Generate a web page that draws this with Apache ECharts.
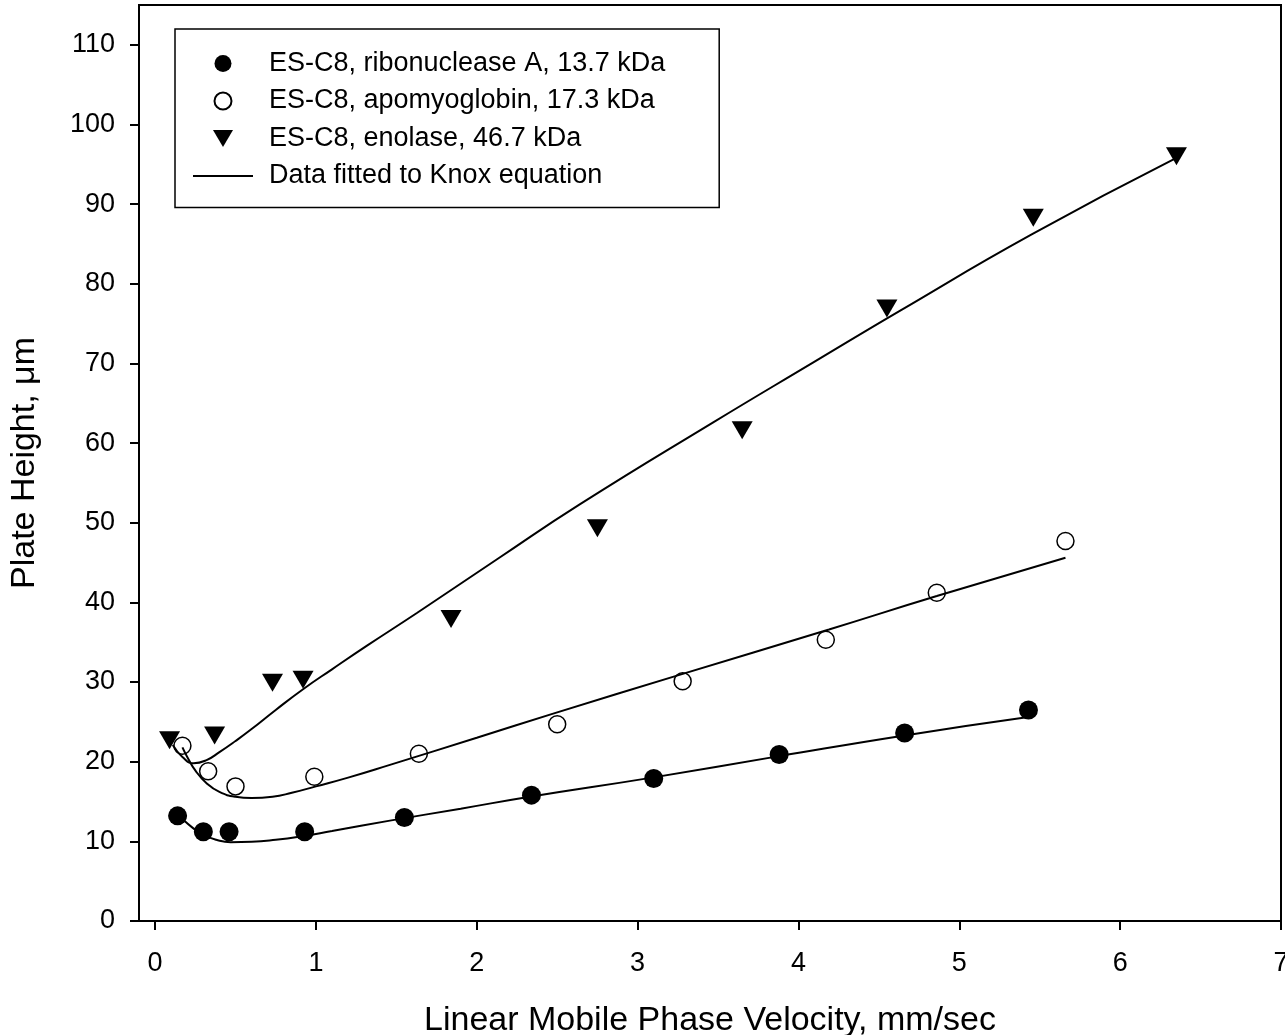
<!DOCTYPE html>
<html>
<head>
<meta charset="utf-8">
<script src="https://cdn.jsdelivr.net/npm/echarts@6/dist/echarts.min.js"></script>
<style>
  html, body { margin: 0; padding: 0; background: #fff; }
  #chart { width: 1285px; height: 1035px; }
</style>
</head>
<body>
<div id="chart"></div>
<script>
// 图例名称
var riboName = 'ES-C8, ribonuclease A, 13.7 kDa';
var apoName = 'ES-C8, apomyoglobin, 17.3 kDa';
var enoName = 'ES-C8, enolase, 46.7 kDa';
var fitName = 'Data fitted to Knox equation';

// 刻度
var xTicks = [0, 1, 2, 3, 4, 5, 6, 7];
var yTicks = [0, 10, 20, 30, 40, 50, 60, 70, 80, 90, 100, 110];

// 测量点 [线速度 mm/sec, 板高 µm]
var riboData = [[0.14, 13.2], [0.30, 11.2], [0.46, 11.2], [0.93, 11.2], [1.55, 13.0],
  [2.34, 15.8], [3.10, 17.9], [3.88, 20.9], [4.66, 23.6], [5.43, 26.5]];
var apoData = [[0.17, 22.0], [0.33, 18.8], [0.50, 16.9], [0.99, 18.1], [1.64, 21.0],
  [2.50, 24.7], [3.28, 30.1], [4.17, 35.3], [4.86, 41.2], [5.66, 47.7]];
var enoData = [[0.09, 22.7], [0.37, 23.3], [0.73, 29.9], [0.92, 30.3], [1.84, 37.9],
  [2.75, 49.3], [3.65, 61.6], [4.55, 76.9], [5.46, 88.3], [6.35, 96.0]];

// Knox 拟合曲线
var riboFit = [[0.17, 12.8], [0.24, 11.6], [0.30, 10.8], [0.38, 10.2], [0.47, 9.9], [0.60, 9.95],
  [0.75, 10.2], [0.90, 10.6], [1.10, 11.3], [1.46, 12.6], [1.90, 14.1], [2.33, 15.6],
  [3.09, 18.0], [3.88, 20.7], [4.66, 23.3], [5.43, 25.6]];
var apoFit = [[0.17, 21.8], [0.20, 20.6], [0.25, 18.9], [0.32, 17.3], [0.40, 16.2], [0.50, 15.6],
  [0.60, 15.45], [0.73, 15.6], [0.85, 16.1], [1.00, 16.9], [1.20, 18.0], [1.46, 19.6],
  [2.00, 23.0], [2.47, 26.0], [3.26, 30.9], [4.19, 36.6], [4.86, 40.8], [5.66, 45.6]];
var enoFit = [[0.11, 22.1], [0.17, 20.6], [0.24, 19.8], [0.32, 20.2], [0.40, 21.2], [0.50, 22.6],
  [0.60, 24.1], [0.75, 26.5], [0.92, 29.1], [1.10, 31.6], [1.32, 34.6], [1.63, 38.7],
  [2.14, 45.6], [2.64, 52.3], [3.47, 62.6], [4.09, 70.1], [4.63, 76.6], [5.45, 86.2], [6.35, 95.8]];

var font = 'Liberation Sans, Arial, sans-serif';
var myChart = echarts.init(document.getElementById('chart'));

function fitSeries(data) {
  return {
    name: fitName,
    type: 'line',
    data: data,
    symbol: 'none',
    smooth: 0.5,
    lineStyle: { color: '#000', width: 2 },
    itemStyle: { color: '#000' },
    z: 3
  };
}

var option = {
  animation: false,
  backgroundColor: '#fff',
  grid: {
    left: 139, right: 4, top: 5, bottom: 114,
    outerBoundsMode: 'none',
    show: true, borderColor: '#000', borderWidth: 2
  },
  legend: {
    orient: 'vertical',
    left: 175,
    top: 29,
    padding: [21, 54, 18, 17],
    itemGap: 10.5,
    itemWidth: 60,
    itemHeight: 17,
    borderColor: '#000',
    borderWidth: 1.5,
    textStyle: { fontSize: 27, fontFamily: font, color: '#000', padding: [0, 0, 0, 11] },
    data: [
      riboName,
      apoName,
      { name: enoName, icon: 'path://M0,0 L20,0 L10,17 Z' },
      { name: fitName, itemStyle: { opacity: 0 }, lineStyle: { width: 2, color: '#000' } }
    ]
  },
  xAxis: {
    type: 'value',
    min: -0.1,
    max: 7,
    name: 'Linear Mobile Phase Velocity, mm/sec',
    nameLocation: 'middle',
    nameGap: 83,
    nameTextStyle: { fontSize: 34, fontFamily: font, color: '#000' },
    axisLine: { onZero: false, lineStyle: { color: '#000', width: 2 } },
    axisTick: { length: 9, customValues: xTicks, lineStyle: { color: '#000', width: 2 } },
    axisLabel: { customValues: xTicks, fontSize: 27, fontFamily: font, color: '#000', margin: 29 },
    splitLine: { show: false }
  },
  yAxis: {
    type: 'value',
    min: 0,
    max: 115,
    name: 'Plate Height, μm',
    nameLocation: 'middle',
    nameGap: 97,
    nameTextStyle: { fontSize: 34, fontFamily: font, color: '#000' },
    axisLine: { onZero: false, lineStyle: { color: '#000', width: 2 } },
    axisTick: { length: 9, customValues: yTicks, lineStyle: { color: '#000', width: 2 } },
    axisLabel: { customValues: yTicks, fontSize: 27, fontFamily: font, color: '#000', margin: 24 },
    splitLine: { show: false }
  },
  series: [
    {
      name: riboName,
      type: 'scatter',
      data: riboData,
      symbol: 'circle',
      symbolSize: 19,
      itemStyle: { color: '#000', opacity: 1 },
      z: 4
    },
    {
      name: apoName,
      type: 'scatter',
      data: apoData,
      symbol: 'circle',
      symbolSize: 17,
      itemStyle: { color: 'rgba(255,255,255,0)', borderColor: '#000', borderWidth: 1.5, opacity: 1 },
      z: 2
    },
    {
      name: enoName,
      type: 'scatter',
      data: enoData,
      symbol: 'triangle',
      symbolRotate: 180,
      symbolSize: [21, 18],
      itemStyle: { color: '#000', opacity: 1 },
      z: 4
    },
    fitSeries(riboFit),
    fitSeries(apoFit),
    fitSeries(enoFit)
  ]
};

myChart.setOption(option);
</script>
</body>
</html>
